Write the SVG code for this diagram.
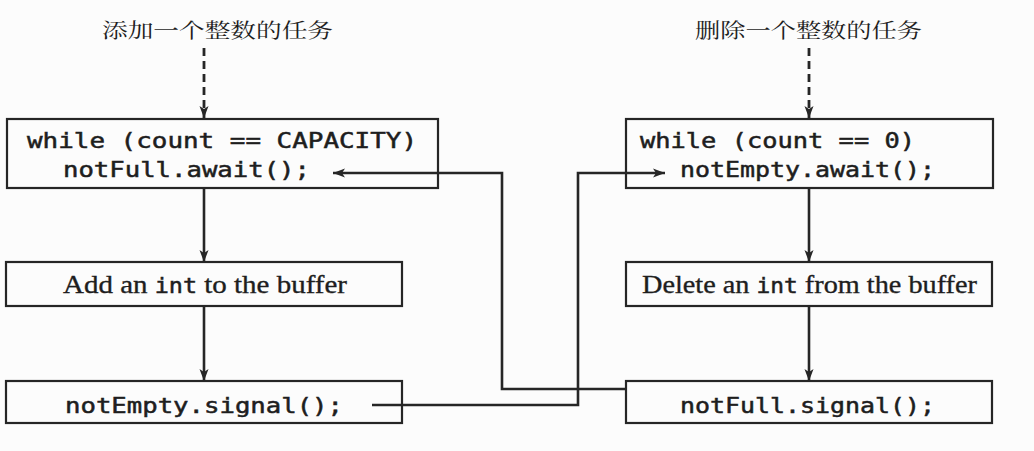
<svg xmlns="http://www.w3.org/2000/svg" width="1034" height="451" viewBox="0 0 1034 451">
<style>
.box{fill:none;stroke:#262626;stroke-width:2.2}
.mono{font-family:"DejaVu Sans Mono","Liberation Mono",monospace;font-size:21px;fill:#1e1e1e;stroke:#1e1e1e;stroke-width:0.5}
.serif{font-family:"Liberation Serif","Times New Roman",serif;font-size:26px;fill:#1e1e1e;stroke:#1e1e1e;stroke-width:0.35}
.cjk{font-family:"Noto Serif CJK SC","Noto Sans CJK SC",serif;font-size:20px;fill:#1e1e1e}
.line{fill:none;stroke:#262626;stroke-width:2.6}
.dash{fill:none;stroke:#262626;stroke-width:2.8;stroke-dasharray:8 5}
</style>
<defs>
<marker id="ah" viewBox="0 0 12 10" refX="12" refY="5" markerWidth="12" markerHeight="10" markerUnits="userSpaceOnUse" orient="auto">
<path d="M0,0.5 L12,5 L0,9.5 L3,5 Z" fill="#262626"/>
</marker>
</defs>
<rect width="1034" height="451" fill="#fcfcfc"/>
<g id="title-add"><text class="cjk" x="102" y="38" textLength="231" lengthAdjust="spacingAndGlyphs">添加一个整数的任务</text></g>
<g id="title-del"><text class="cjk" x="695" y="38" textLength="227" lengthAdjust="spacingAndGlyphs">删除一个整数的任务</text></g>
<g id="n1"><rect class="box" x="7" y="119" width="431" height="69"/>
<text class="mono" x="27" y="148" textLength="390" lengthAdjust="spacingAndGlyphs" stroke-width="0.8">while (count == CAPACITY)</text>
<text class="mono" x="63" y="177" textLength="247" lengthAdjust="spacingAndGlyphs">notFull.await();</text></g>
<g id="n2"><rect class="box" x="6" y="262" width="396" height="44"/>
<text class="serif" x="63" y="293" textLength="284" lengthAdjust="spacingAndGlyphs">Add an <tspan class="mono" font-size="22">int</tspan> to the buffer</text></g>
<g id="n3"><rect class="box" x="6" y="381" width="396" height="42"/>
<text class="mono" x="65" y="413" textLength="278" lengthAdjust="spacingAndGlyphs">notEmpty.signal();</text></g>
<g id="n4"><rect class="box" x="626" y="119" width="367" height="69"/>
<text class="mono" x="640" y="148" textLength="275" lengthAdjust="spacingAndGlyphs" stroke-width="0.8">while (count == 0)</text>
<text class="mono" x="680" y="177" textLength="255" lengthAdjust="spacingAndGlyphs">notEmpty.await();</text></g>
<g id="n5"><rect class="box" x="626" y="262" width="366" height="44"/>
<text class="serif" x="642" y="293" textLength="335" lengthAdjust="spacingAndGlyphs">Delete an <tspan class="mono" font-size="22">int</tspan> from the buffer</text></g>
<g id="n6"><rect class="box" x="626" y="381" width="366" height="42"/>
<text class="mono" x="680" y="413" textLength="255" lengthAdjust="spacingAndGlyphs">notFull.signal();</text></g>
<g id="connectors">
<path class="dash" d="M204,48 V118" marker-end="url(#ah)"/>
<path class="dash" d="M809,48 V118" marker-end="url(#ah)"/>
<path class="line" d="M204,188 V262" marker-end="url(#ah)"/>
<path class="line" d="M204,306 V381" marker-end="url(#ah)"/>
<path class="line" d="M809,188 V262" marker-end="url(#ah)"/>
<path class="line" d="M809,306 V381" marker-end="url(#ah)"/>
<path class="line" d="M626,389 H502 V173 H333" marker-end="url(#ah)"/>
<path class="line" d="M372,405 H578 V173 H665" marker-end="url(#ah)"/>
</g>
</svg>
